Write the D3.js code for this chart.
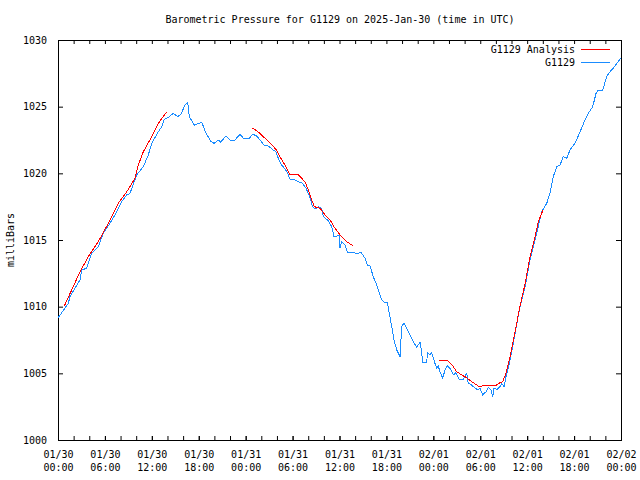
<!DOCTYPE html>
<html>
<head>
<meta charset="utf-8">
<script src="https://cdn.jsdelivr.net/npm/d3@7"></script>
<style>
  html, body { margin: 0; padding: 0; background: #fff; }
  svg { display: block; }
  text { font-family: "DejaVu Sans Mono", "Liberation Mono", monospace; font-size: 10px; fill: #000; }
</style>
</head>
<body>
<svg id="chart" width="640" height="480"></svg>
<script>
// ---- Data (hours since 2025-01-30 00:00 UTC, pressure in mb) ----
const title = "Barometric Pressure for G1129 on 2025-Jan-30 (time in UTC)";
const yLabel = "milliBars";
const seriesNames = ["G1129 Analysis", "G1129"];
const yTicks = [1000, 1005, 1010, 1015, 1020, 1025, 1030];

const obsHours = [0, 1.32, 1.53, 2.81, 3.03, 3.67, 4.31, 5.15, 5.79, 6.65, 7.51, 8.15, 8.79, 9.21, 10.06, 10.91, 11.55, 11.98, 12.83, 13.26, 13.59, 14.11, 14.75, 15.31, 15.73, 16.24, 16.59, 16.79, 17.43, 18.38, 18.93, 19.53, 19.95, 20.5, 20.81, 21.49, 22.0, 22.51, 23.28, 23.7, 24.46, 24.9, 25.41, 25.83, 26.34, 26.9, 27.53, 27.88, 28.17, 28.61, 29.03, 29.38, 29.67, 30.31, 30.73, 31.17, 31.72, 32.14, 32.57, 32.87, 33.29, 33.72, 33.93, 34.57, 35.0, 35.3, 35.72, 35.98, 36.06, 36.28, 36.7, 37.0, 37.77, 38.2, 38.75, 39.26, 39.55, 39.9, 40.32, 40.67, 40.96, 41.4, 41.69, 42.11, 42.37, 42.68, 42.97, 43.32, 43.74, 43.96, 44.25, 44.6, 45.02, 45.44, 45.87, 46.3, 46.51, 46.64, 47.15, 47.25, 47.57, 47.79, 48.21, 48.43, 48.63, 48.85, 49.2, 49.49, 49.79, 50.22, 50.56, 50.9, 51.32, 51.83, 52.27, 52.47, 52.91, 53.33, 53.75, 53.97, 54.31, 54.74, 55.03, 55.34, 55.59, 55.76, 56.18, 56.53, 56.74, 57.04, 57.29, 57.59, 57.9, 58.23, 58.53, 59.09, 59.73, 60.36, 61.0, 61.42, 61.86, 62.5, 62.92, 63.34, 63.78, 64.2, 64.62, 65.06, 65.48, 66.12, 66.76, 67.4, 67.82, 68.38, 68.81, 69.1, 69.66, 70.17, 70.59, 71.02, 71.45, 72.0];
const obsPressure = [1009.15, 1010.25, 1010.75, 1012.0, 1012.75, 1012.88, 1014.0, 1014.5, 1015.5, 1016.25, 1017.12, 1017.87, 1018.38, 1018.5, 1019.88, 1020.5, 1021.38, 1022.25, 1023.12, 1023.5, 1024.05, 1024.2, 1024.5, 1024.25, 1024.45, 1025.12, 1025.3, 1024.25, 1023.62, 1023.83, 1023.0, 1022.42, 1022.25, 1022.5, 1022.33, 1022.82, 1022.5, 1022.42, 1022.93, 1022.63, 1022.63, 1022.93, 1022.8, 1022.5, 1022.12, 1022.05, 1021.75, 1021.62, 1021.13, 1020.62, 1020.32, 1020.0, 1019.55, 1019.5, 1019.37, 1019.3, 1018.88, 1018.3, 1017.5, 1017.32, 1017.5, 1017.38, 1016.75, 1016.45, 1016.0, 1015.25, 1015.3, 1015.38, 1014.38, 1014.88, 1014.62, 1014.08, 1014.08, 1013.95, 1014.08, 1013.63, 1013.13, 1013.07, 1012.25, 1011.75, 1011.25, 1010.5, 1010.33, 1010.33, 1009.5, 1008.5, 1007.5, 1006.75, 1006.25, 1008.5, 1008.8, 1008.38, 1007.88, 1007.37, 1006.95, 1007.33, 1006.55, 1005.81, 1005.81, 1006.52, 1006.38, 1006.55, 1005.75, 1005.38, 1005.55, 1005.12, 1004.63, 1005.25, 1005.55, 1005.3, 1004.88, 1005.05, 1004.55, 1004.55, 1005.0, 1004.25, 1004.12, 1003.88, 1003.75, 1003.88, 1003.38, 1003.62, 1003.95, 1003.8, 1003.25, 1003.88, 1003.8, 1004.0, 1004.25, 1004.0, 1004.75, 1005.38, 1006.25, 1007.25, 1008.25, 1010.0, 1011.5, 1013.5, 1015.0, 1016.0, 1017.12, 1017.75, 1018.5, 1019.75, 1020.5, 1020.62, 1021.25, 1021.13, 1021.75, 1022.25, 1023.12, 1024.0, 1024.5, 1025.0, 1026.0, 1026.25, 1026.25, 1027.25, 1027.62, 1027.88, 1028.25, 1028.65];

const analysis1Hours = [0.81, 1.75, 2.81, 3.88, 5.15, 6.43, 7.71, 8.79, 9.85, 10.27, 10.91, 11.98, 12.83, 13.9];
const analysis1Pressure = [1010.05, 1011.25, 1012.62, 1013.75, 1014.87, 1016.25, 1017.75, 1018.62, 1019.63, 1020.62, 1021.62, 1022.75, 1023.75, 1024.62];
const analysis2Hours = [24.85, 25.41, 25.83, 26.47, 27.33, 27.88, 28.39, 29.03, 29.67, 30.73, 31.59, 32.01, 32.44, 32.78, 33.51, 34.15, 34.79, 35.42, 36.06, 36.92, 37.77];
const analysis2Pressure = [1023.38, 1023.2, 1023.0, 1022.63, 1022.13, 1021.8, 1021.25, 1020.62, 1019.88, 1019.88, 1019.37, 1018.75, 1018.0, 1017.5, 1017.38, 1016.88, 1016.5, 1015.88, 1015.38, 1014.88, 1014.55];
const analysis3Hours = [48.76, 49.79, 50.56, 50.99, 51.63, 52.27, 52.91, 53.75, 54.18, 55.03, 55.89, 56.53, 56.87, 57.29, 57.72, 58.15, 58.45, 59.09, 59.73, 60.36, 61.0, 61.42, 62.02];
const analysis3Pressure = [1006.0, 1006.0, 1005.5, 1005.12, 1004.88, 1004.67, 1004.37, 1004.05, 1004.05, 1004.12, 1004.05, 1004.3, 1004.37, 1005.0, 1006.0, 1007.25, 1008.12, 1010.05, 1011.7, 1013.72, 1015.22, 1016.35, 1017.25];

// ---- Chart ----
const start = Date.UTC(2025, 0, 30, 0, 0);
const toDate = h => new Date(start + h * 3600e3);
const W = 640, H = 480;
const m = { left: 58, right: 621, top: 40, bottom: 440 };
const colors = { analysis: "#ff0000", obs: "#1a8cff" };

const svg = d3.select("#chart");
svg.append("rect").attr("width", W).attr("height", H).attr("fill", "#fff");

const x = d3.scaleUtc().domain([toDate(0), toDate(72)]).range([m.left, m.right]);
const y = d3.scaleLinear().domain([1000, 1030]).range([m.bottom, m.top]);

// minor x ticks every 2 hours, bottom & top
const minorTicks = d3.utcHour.every(2).range(toDate(0), toDate(72.01));
svg.append("g").attr("transform", `translate(0,${m.bottom})`)
  .call(d3.axisBottom(x).tickValues(minorTicks).tickSizeInner(-4).tickSizeOuter(0).tickFormat(""))
  .call(g => g.select(".domain").remove());
svg.append("g").attr("transform", `translate(0,${m.top})`)
  .call(d3.axisTop(x).tickValues(minorTicks).tickSizeInner(-4).tickSizeOuter(0).tickFormat(""))
  .call(g => g.select(".domain").remove());

// major labels every 6 hours
const majorTicks = d3.utcHour.every(6).range(toDate(0), toDate(72.01));
const fmtDate = d3.utcFormat("%m/%d"), fmtTime = d3.utcFormat("%H:%M");
const gx = svg.append("g").attr("transform", `translate(0,${m.bottom})`)
  .call(d3.axisBottom(x).tickValues(majorTicks).tickSizeInner(-4).tickSizeOuter(0).tickPadding(0).tickFormat(""))
  .call(g => g.select(".domain").remove());
gx.selectAll(".tick").each(function(d) {
  const t = d3.select(this).select("text")
    .attr("y", 0).attr("dy", null)
    .attr("font-family", null).attr("font-size", null);
  t.text(null);
  t.append("tspan").attr("x", 0).attr("y", 18).text(fmtDate(d));
  t.append("tspan").attr("x", 0).attr("y", 31).text(fmtTime(d));
});

// y axis left & right
svg.append("g").attr("transform", `translate(${m.left},0)`)
  .call(d3.axisLeft(y).tickValues(yTicks).tickSizeInner(-5).tickSizeOuter(0).tickPadding(11).tickFormat(d3.format("d")))
  .call(g => g.select(".domain").remove())
  .call(g => g.selectAll("text").attr("font-family", null).attr("font-size", null));
svg.append("g").attr("transform", `translate(${m.right},0)`)
  .call(d3.axisRight(y).tickValues(yTicks).tickSizeInner(-5).tickSizeOuter(0).tickFormat(""))
  .call(g => g.select(".domain").remove());

// frame
svg.append("rect")
  .attr("x", m.left + 0.5).attr("y", m.top + 0.5)
  .attr("width", m.right - m.left).attr("height", m.bottom - m.top)
  .attr("fill", "none").attr("stroke", "#000").attr("stroke-width", 1);

// lines
const line = d3.line().x(d => x(toDate(d[0]))).y(d => y(d[1]));
const zip = (a, b) => a.map((v, i) => [v, b[i]]);

svg.append("path").datum(zip(obsHours, obsPressure))
  .attr("fill", "none").attr("stroke", colors.obs).attr("stroke-width", 1)
  .attr("shape-rendering", "crispEdges").attr("d", line);

[[analysis1Hours, analysis1Pressure], [analysis2Hours, analysis2Pressure], [analysis3Hours, analysis3Pressure]]
  .forEach(([h, p]) => {
    svg.append("path").datum(zip(h, p))
      .attr("fill", "none").attr("stroke", colors.analysis).attr("stroke-width", 1)
      .attr("shape-rendering", "crispEdges").attr("d", line);
  });

// title
svg.append("text").attr("x", 340).attr("y", 23).attr("text-anchor", "middle").text(title);

// y label
svg.append("text").attr("transform", "translate(14,240) rotate(-90)")
  .attr("text-anchor", "middle").text(yLabel);

// legend
const legend = [
  { name: seriesNames[0], color: colors.analysis, yy: 49.5 },
  { name: seriesNames[1], color: colors.obs, yy: 62.5 }
];
legend.forEach(l => {
  svg.append("text").attr("x", 575).attr("y", l.yy).attr("dy", "0.35em")
    .attr("text-anchor", "end").text(l.name);
  svg.append("line").attr("x1", 581).attr("x2", 610).attr("y1", l.yy).attr("y2", l.yy)
    .attr("stroke", l.color).attr("stroke-width", 1);
});
</script>
</body>
</html>
